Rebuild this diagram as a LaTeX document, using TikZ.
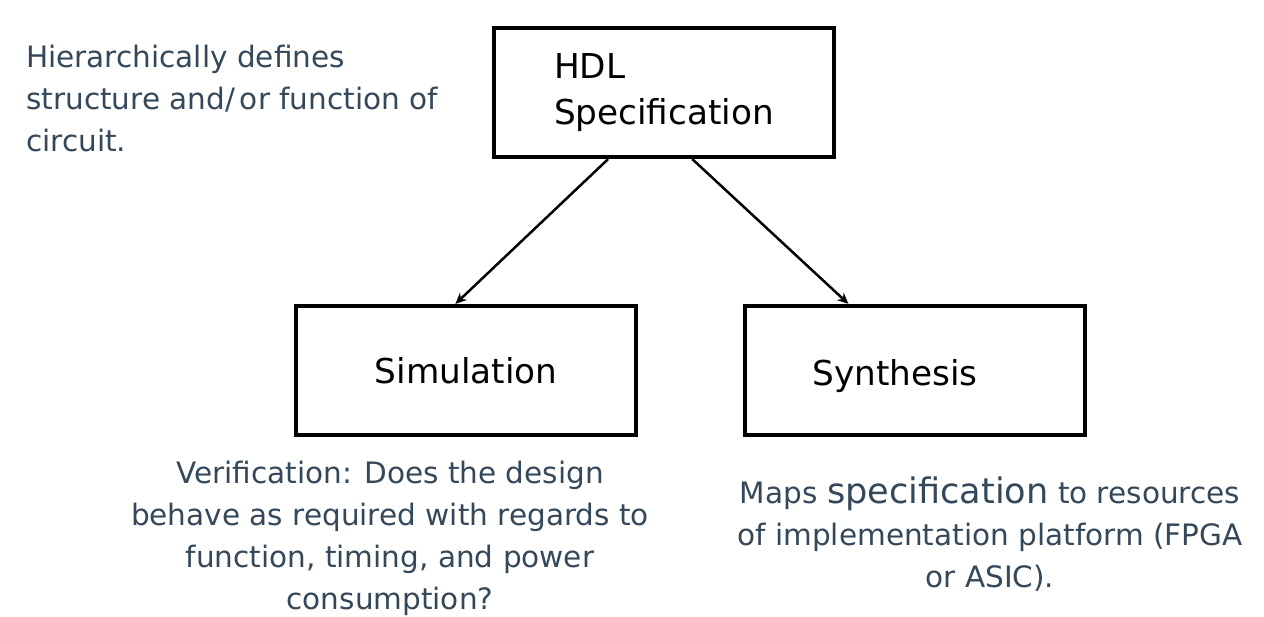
\documentclass[tikz,border=0pt]{standalone}
\usepackage{fontspec}
\setmainfont{DejaVu Sans}
\newfontfamily\boxfont{DejaVu Sans}
\usetikzlibrary{arrows.meta}
\usepackage{xcolor}
\definecolor{notegray}{RGB}{52,72,90}

\begin{document}
\begin{tikzpicture}[
  x=0.02cm, y=0.02cm,
  box/.style={draw, line width=0.085cm, minimum width=6.8cm, minimum height=2.58cm,
    align=left, font=\boxfont\fontsize{19.5}{26}\selectfont},
  note/.style={text=notegray, font=\fontsize{16.8}{23.8}\selectfont},
  arrow/.style={-{Stealth[length=2.2mm,width=2mm]}, line width=0.05cm}
]
\useasboundingbox (0,0) rectangle (1264,617);

\node[box] (hdl) at (664,524.5) {HDL\\Specification};
\node[box] (sim) at (466,246.5) {Simulation};
\node[box] (syn) at (915,246.5) {\raisebox{-0.03cm}[\height][0pt]{Synthesis}\hspace*{0.8cm}};

\draw[arrow] (hdl.230) -- (sim.99);
\draw[arrow] (hdl.293) -- (syn.135);

\node[note, align=left, anchor=north west] (hdlnote) at (20,578)
  {Hierarchically defines\\structure and/\,or function of\\circuit.};
\node[note, align=center, anchor=north] (simnote) at (390,162)
  {Verification: Does the design\\behave as required with regards to\\function, timing, and power\\consumption?};
\node[note, align=center, anchor=north] (synnote) at (990,146)
  {Maps {\fontsize{20}{23.8}\selectfont specification} to resources\\of implementation platform (FPGA\\or ASIC).};
\end{tikzpicture}
\end{document}
